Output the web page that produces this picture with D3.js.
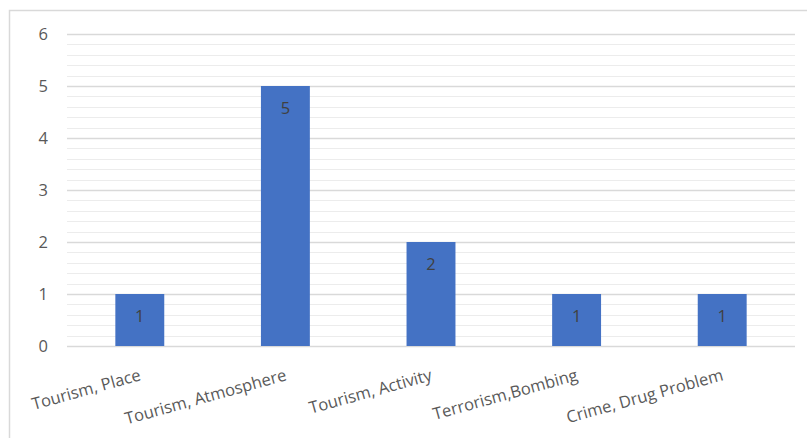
<!DOCTYPE html>
<html>
<head>
<meta charset="utf-8">
<script src="https://cdn.jsdelivr.net/npm/d3@7"></script>
<style>
  html, body { margin: 0; padding: 0; background: #fff; }
  svg { display: block; }
  text { font-family: "Open Sans", "Noto Sans", sans-serif; }
</style>
</head>
<body>
<svg id="chart" width="807" height="438"></svg>
<script>
// Counts per theme
const categories = ["Tourism, Place", "Tourism, Atmosphere", "Tourism, Activity", "Terrorism,Bombing", "Crime, Drug Problem"];
const counts = [1, 5, 2, 1, 1];
const yTicks = [0, 1, 2, 3, 4, 5, 6];

const W = 807, H = 438;
const margin = { left: 67, right: 12, top: 34, bottom: 92 };
const svg = d3.select("#chart");

// chart frame
svg.append("path")
  .attr("d", `M9.5,${H} V10.5 H${W}`)
  .attr("fill", "none")
  .attr("stroke", "#d9d9d9")
  .attr("stroke-width", 1.5);

const x = d3.scaleBand()
  .domain(categories)
  .range([margin.left, W - margin.right])
  .paddingInner(0.664)
  .paddingOuter(0.332);

const y = d3.scaleLinear()
  .domain([0, 6])
  .range([H - margin.bottom, margin.top]);

// minor gridlines every 0.2
const minor = d3.range(0, 30).map(i => i * 0.2).filter(v => Math.abs(v - Math.round(v)) > 1e-6);
svg.append("g").selectAll("line").data(minor).join("line")
  .attr("x1", margin.left).attr("x2", W - margin.right)
  .attr("y1", d => Math.round(y(d)) + 0.5).attr("y2", d => Math.round(y(d)) + 0.5)
  .attr("stroke", "#ececec").attr("stroke-width", 1);

// major gridlines via axis
const yAxis = d3.axisLeft(y).tickValues(yTicks).tickSize(-(W - margin.left - margin.right)).tickPadding(19).tickFormat(d3.format("d"));
const gy = svg.append("g").attr("transform", `translate(${margin.left},0)`).call(yAxis);
gy.select(".domain").remove();
gy.selectAll(".tick line").attr("stroke", "#d9d9d9").attr("stroke-width", 1.5);
gy.selectAll(".tick text").attr("fill", "#595959").attr("font-size", 16.5);

// bars
svg.append("g").selectAll("rect").data(categories).join("rect")
  .attr("x", d => x(d))
  .attr("width", x.bandwidth())
  .attr("y", (d, i) => y(counts[i]))
  .attr("height", (d, i) => y(0) - y(counts[i]))
  .attr("fill", "#4472c4");

// value labels inside bar tops
svg.append("g").selectAll("text").data(categories).join("text")
  .attr("x", d => x(d) + x.bandwidth() / 2)
  .attr("y", (d, i) => y(counts[i]) + 28)
  .attr("text-anchor", "middle")
  .attr("fill", "#404040")
  .attr("font-size", 16.5)
  .text((d, i) => counts[i]);

// category labels, rotated
const xAxis = d3.axisBottom(x).tickSize(0).tickPadding(0);
const gx = svg.append("g").attr("transform", `translate(0,${y(0)})`).call(xAxis);
gx.select(".domain").remove();
gx.selectAll(".tick text")
  .attr("fill", "#595959")
  .attr("font-size", 16.5)
  .attr("text-anchor", "end")
  .attr("dy", 0)
  .attr("transform", "translate(2,34) rotate(-15.5)");
</script>
</body>
</html>
